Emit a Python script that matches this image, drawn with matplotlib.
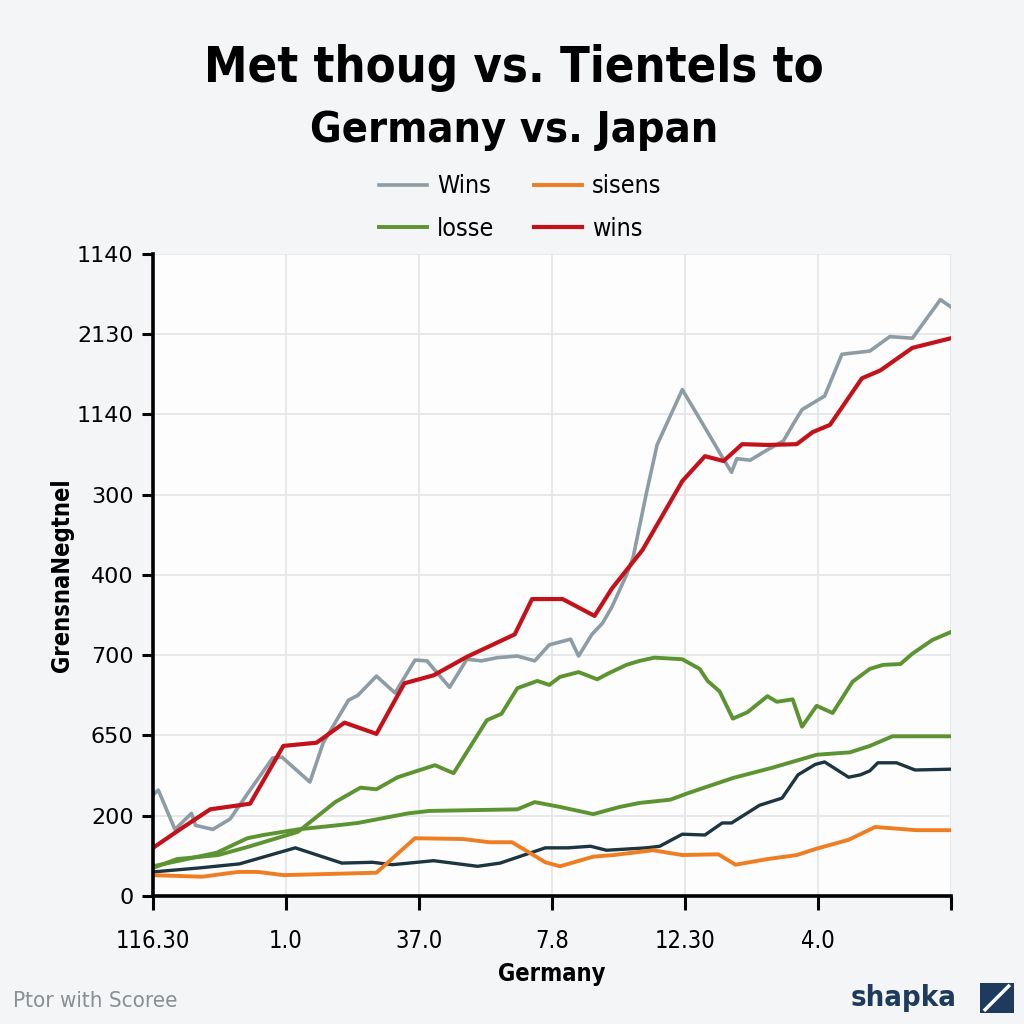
import matplotlib.pyplot as plt
from matplotlib import font_manager
from matplotlib.patches import Rectangle
from matplotlib.lines import Line2D

# ---------------------- DATA ----------------------
TITLE_1 = "Met thoug vs. Tientels to"
TITLE_2 = "Germany vs. Japan"
X_LABEL = "Germany"
Y_LABEL = "GrensnaNegtnel"
X_TICK_LABELS = ["116.30", "1.0", "37.0", "7.8", "12.30", "4.0", ""]
Y_TICK_LABELS = ["0", "200", "650", "700", "400", "300", "1140", "2130", "1140"]

wins_gray_x = [0.0, 0.04, 0.165, 0.29, 0.32, 0.45, 0.58, 0.73, 0.90, 0.97, 1.18, 1.28, 1.47,
               1.54, 1.68, 1.82, 1.97, 2.06, 2.23, 2.36, 2.47, 2.59, 2.74, 2.87, 2.98, 3.14,
               3.20, 3.30, 3.38, 3.45, 3.56, 3.61, 3.71, 3.79, 3.98, 4.17, 4.28, 4.35, 4.39,
               4.49, 4.62, 4.74, 4.81, 4.88, 5.05, 5.18, 5.39, 5.54, 5.71, 5.92, 6.0]
wins_gray_y = [1.26, 1.32, 0.83, 1.03, 0.88, 0.83, 0.96, 1.32, 1.72, 1.73, 1.42, 1.91, 2.44,
               2.50, 2.74, 2.53, 2.94, 2.93, 2.60, 2.95, 2.93, 2.97, 2.99, 2.93, 3.13, 3.20,
               2.99, 3.26, 3.40, 3.60, 4.00, 4.22, 5.02, 5.62, 6.31, 5.78, 5.47, 5.28, 5.45,
               5.43, 5.56, 5.67, 5.87, 6.06, 6.23, 6.75, 6.79, 6.97, 6.95, 7.43, 7.34]

wins_red_x = [0.0, 0.23, 0.43, 0.73, 0.98, 1.23, 1.44, 1.68, 1.89, 2.11, 2.36, 2.72, 2.85,
              3.08, 3.32, 3.45, 3.68, 3.98, 4.15, 4.29, 4.43, 4.62, 4.84, 4.96, 5.09, 5.33,
              5.47, 5.71, 6.0]
wins_red_y = [0.60, 0.86, 1.08, 1.15, 1.87, 1.91, 2.16, 2.02, 2.65, 2.75, 2.98, 3.26, 3.70,
              3.70, 3.49, 3.83, 4.31, 5.17, 5.48, 5.42, 5.63, 5.62, 5.63, 5.78, 5.87, 6.45,
              6.55, 6.83, 6.95]

losse_x = [0.0, 0.18, 0.49, 0.71, 1.09, 1.37, 1.56, 1.68, 1.84, 2.12, 2.26, 2.51, 2.62, 2.74,
           2.89, 2.98, 3.06, 3.20, 3.34, 3.42, 3.56, 3.66, 3.77, 3.98, 4.11, 4.17, 4.26, 4.36,
           4.47, 4.62, 4.69, 4.81, 4.88, 4.99, 5.11, 5.26, 5.39, 5.49, 5.62, 5.71, 5.86, 6.0]
losse_y = [0.35, 0.46, 0.51, 0.61, 0.80, 1.17, 1.35, 1.33, 1.48, 1.63, 1.53, 2.19, 2.27, 2.59,
           2.68, 2.63, 2.73, 2.79, 2.70, 2.77, 2.88, 2.93, 2.97, 2.95, 2.83, 2.68, 2.55, 2.21,
           2.29, 2.49, 2.42, 2.45, 2.11, 2.37, 2.28, 2.67, 2.83, 2.88, 2.89, 3.02, 3.19, 3.29]

green_low_x = [0.0, 0.48, 0.71, 0.83, 1.09, 1.38, 1.54, 1.73, 1.92, 2.08, 2.74, 2.87, 3.06,
               3.31, 3.51, 3.66, 3.89, 4.02, 4.36, 4.66, 4.99, 5.24, 5.39, 5.56, 6.0]
green_low_y = [0.37, 0.54, 0.72, 0.76, 0.83, 0.88, 0.91, 0.97, 1.03, 1.06, 1.08, 1.17, 1.11,
               1.02, 1.11, 1.16, 1.20, 1.28, 1.47, 1.60, 1.76, 1.79, 1.87, 1.99, 1.99]

navy_x = [0.0, 0.35, 0.65, 1.07, 1.42, 1.65, 1.80, 2.11, 2.44, 2.61, 2.95, 3.12, 3.29, 3.41,
          3.71, 3.81, 3.98, 4.15, 4.28, 4.35, 4.56, 4.73, 4.85, 4.98, 5.05, 5.23, 5.32, 5.39,
          5.45, 5.59, 5.73, 6.0]
navy_y = [0.30, 0.35, 0.40, 0.60, 0.41, 0.42, 0.39, 0.44, 0.37, 0.41, 0.60, 0.60, 0.62, 0.57,
          0.60, 0.62, 0.77, 0.76, 0.91, 0.91, 1.13, 1.22, 1.51, 1.64, 1.67, 1.48, 1.51, 1.56,
          1.66, 1.66, 1.57, 1.58]

sisens_x = [0.0, 0.37, 0.64, 0.79, 0.98, 1.68, 1.97, 2.33, 2.53, 2.70, 2.95, 3.06, 3.31, 3.46,
            3.76, 3.98, 4.25, 4.38, 4.62, 4.84, 4.99, 5.23, 5.43, 5.74, 6.0]
sisens_y = [0.26, 0.24, 0.30, 0.30, 0.26, 0.29, 0.72, 0.71, 0.67, 0.67, 0.42, 0.37, 0.49, 0.51,
            0.57, 0.51, 0.52, 0.39, 0.46, 0.51, 0.59, 0.70, 0.86, 0.82, 0.82]

# ---------------------- STYLE ----------------------
# condensed look for titles / labels
NARROW = font_manager.FontProperties(family="DejaVu Sans", stretch="condensed")
NARROW_B = font_manager.FontProperties(family="DejaVu Sans", stretch="condensed", weight="bold")
GRAY = "#8d9ca5"
RED = "#c4121a"
GREEN = "#5b9431"
NAVY = "#1c3540"
ORANGE = "#ef7d22"

fig = plt.figure(figsize=(10.24, 10.24), dpi=100, facecolor="#f3f5f6")
ax = fig.add_axes([0.1494, 0.125, 0.7793, 0.627])
ax.set_facecolor("#fdfdfd")

ax.plot(green_low_x, green_low_y, color=GREEN, lw=2.8)
ax.plot(navy_x, navy_y, color=NAVY, lw=2.4)
ax.plot(sisens_x, sisens_y, color=ORANGE, lw=2.8, label="sisens")
ax.plot(losse_x, losse_y, color=GREEN, lw=2.8, label="losse")
ax.plot(wins_gray_x, wins_gray_y, color=GRAY, lw=2.6, label="Wins")
ax.plot(wins_red_x, wins_red_y, color=RED, lw=3.0, label="wins")

ax.set_xlim(0, 6)
ax.set_ylim(0, 8)
ax.set_xticks(range(len(X_TICK_LABELS)))
ax.set_xticklabels(X_TICK_LABELS)
ax.set_yticks(range(len(Y_TICK_LABELS)))
ax.set_yticklabels(Y_TICK_LABELS)
for t in ax.get_xticklabels():
    t.set_fontproperties(NARROW)
    t.set_fontsize(17)
for t in ax.get_yticklabels():
    t.set_fontsize(16)
ax.tick_params(axis="x", length=10, width=2.2, pad=14, colors="black")
ax.tick_params(axis="y", length=8, width=2.2, pad=6, colors="black")
ax.grid(True, color="#e4e6e8", lw=1.3)
ax.set_axisbelow(True)
for side in ["top", "right"]:
    ax.spines[side].set_visible(False)
for side in ["left", "bottom"]:
    ax.spines[side].set_linewidth(2.6)
    ax.spines[side].set_color("black")

ax.set_xlabel(X_LABEL, fontproperties=NARROW_B, fontsize=17, labelpad=6)
ax.set_ylabel(Y_LABEL, fontproperties=NARROW_B, fontsize=17, labelpad=2)

# legend: Wins / losse in first column, sisens / wins in second
h, l = ax.get_legend_handles_labels()
order = [l.index("Wins"), l.index("losse"), l.index("sisens"), l.index("wins")]
leg_font = NARROW.copy()
leg_font.set_size(18)
fig.legend([h[i] for i in order], [l[i] for i in order], ncol=2,
           loc="center", bbox_to_anchor=(0.508, 0.797), frameon=False,
           prop=leg_font, handlelength=1.9,
           columnspacing=1.6, labelspacing=0.75, handletextpad=0.4)

fig.text(0.502, 0.934, TITLE_1, ha="center", va="center", fontproperties=NARROW_B,
         fontsize=35)
fig.text(0.502, 0.873, TITLE_2, ha="center", va="center", fontproperties=NARROW_B,
         fontsize=31)

fig.text(0.013, 0.022, "Ptor with Scoree", ha="left", va="center", fontproperties=NARROW,
         fontsize=16, color="#8a8f94")
fig.text(0.934, 0.025, "shapka", ha="right", va="center", fontproperties=NARROW_B,
         fontsize=21, color="#1e3a5c")
fig.patches.append(Rectangle((0.957, 0.011), 0.033, 0.029, transform=fig.transFigure,
                             facecolor="#1e3a5c", edgecolor="none"))
fig.lines.append(Line2D([0.962, 0.985], [0.014, 0.037], transform=fig.transFigure,
                        color="white", lw=2.5))

fig.savefig("out.png", dpi=100, facecolor=fig.get_facecolor())
